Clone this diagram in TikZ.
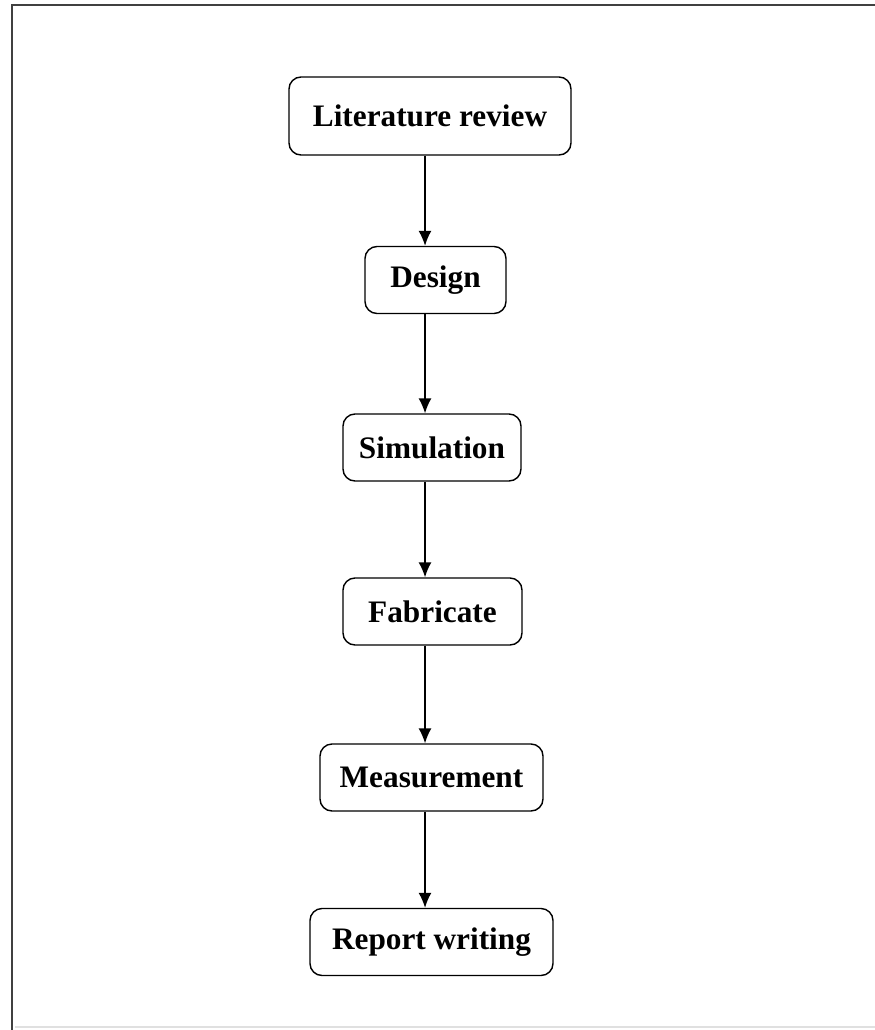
\documentclass[tikz,border=0pt]{standalone}
\usepackage{fontspec}
\setmainfont{Liberation Serif}
\usetikzlibrary{arrows.meta}
\begin{document}
\begin{tikzpicture}[
			step box/.style={rectangle, rounded corners=0.24cm, draw, line width=0.8pt,
				minimum height=1.34cm, font=\fontsize{17.8}{20}\selectfont\bfseries},
			arrow/.style={-{Latex[length=0.3cm,width=0.26cm]}, line width=0.8pt}
		]
		\useasboundingbox (0,0) rectangle (17.5,-20.6);
		% frame
		\draw[line width=1.3pt, black!75] (0.24,-20.6) -- (0.24,-0.1) -- (17.5,-0.1);
		\draw[line width=1pt, black!12] (0.3,-20.54) -- (17.5,-20.54);

		% steps
		\node[step box, minimum width=5.64cm, minimum height=1.56cm] (lit) at (8.60,-2.32) {Literature review};
		\node[step box, minimum width=2.82cm] (design) at (8.71,-5.60) {Design};
		\node[step box, minimum width=3.56cm] (sim) at (8.64,-8.95) {Simulation};
		\node[step box, minimum width=3.58cm] (fab) at (8.65,-12.23) {Fabricate};
		\node[step box, minimum width=4.46cm] (meas) at (8.63,-15.55) {Measurement};
		\node[step box, minimum width=4.86cm] (rep) at (8.63,-18.84) {Report writing};

		% arrows
		\coordinate (ax) at (8.50,0);
		\draw[arrow] (lit.south -| ax) -- (design.north -| ax);
		\draw[arrow] (design.south -| ax) -- (sim.north -| ax);
		\draw[arrow] (sim.south -| ax) -- (fab.north -| ax);
		\draw[arrow] (fab.south -| ax) -- (meas.north -| ax);
		\draw[arrow] (meas.south -| ax) -- (rep.north -| ax);

	\end{tikzpicture}
\end{document}
